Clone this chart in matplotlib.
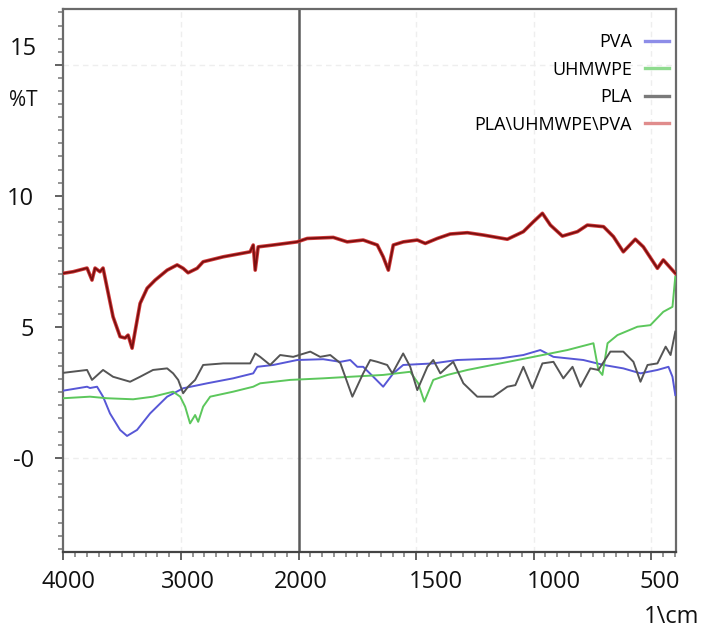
import numpy as np
import matplotlib
matplotlib.use("Agg")
import matplotlib.pyplot as plt
from matplotlib.ticker import FixedLocator, FixedFormatter
from matplotlib.transforms import blended_transform_factory, ScaledTranslation
from matplotlib.lines import Line2D

plt.rcParams['font.family'] = ['Open Sans', 'DejaVu Sans']

# ---------------- data (wavenumber in 1/cm, %T) ----------------
blend_wn = [4000, 3917, 3798, 3756, 3730, 3688, 3662, 3577, 3517, 3475, 3449, 3415,
            3347, 3287, 3219, 3117, 3032, 2981, 2939, 2862, 2811, 2640, 2411, 2385,
            2368, 2343, 2215, 2011, 1963, 1852, 1793, 1725, 1665, 1640, 1618, 1597,
            1554, 1495, 1461, 1410, 1355, 1282, 1214, 1112, 1044, 1001, 963, 929,
            878, 814, 772, 703, 661, 619, 568, 534, 474, 449, 398]
blend_t = [7.04, 7.10, 7.24, 6.78, 7.24, 7.10, 7.24, 5.38, 4.62, 4.57, 4.68, 4.18,
           5.89, 6.47, 6.78, 7.16, 7.36, 7.23, 7.06, 7.23, 7.48, 7.67, 7.86, 8.12,
           7.16, 8.05, 8.12, 8.24, 8.37, 8.41, 8.24, 8.31, 8.12, 7.67, 7.16, 8.12,
           8.24, 8.31, 8.18, 8.37, 8.54, 8.59, 8.50, 8.34, 8.63, 9.01, 9.33, 8.88,
           8.46, 8.63, 8.88, 8.82, 8.44, 7.86, 8.34, 8.05, 7.23, 7.55, 7.04]

pla_wn = [4000, 3798, 3756, 3662, 3577, 3432, 3347, 3237, 3117, 3066, 3023, 2981,
          2939, 2879, 2811, 2640, 2411, 2368, 2326, 2241, 2156, 2045, 1950, 1908,
          1865, 1822, 1771, 1725, 1695, 1665, 1623, 1601, 1555, 1525, 1495, 1452,
          1427, 1397, 1367, 1342, 1299, 1240, 1172, 1112, 1078, 1044, 1006, 963,
          916, 874, 835, 801, 759, 725, 674, 619, 576, 546, 516, 474, 439, 418, 398]
pla_t = [3.24, 3.35, 2.97, 3.35, 3.09, 2.90, 3.09, 3.35, 3.41, 3.22, 2.97, 2.46,
         2.71, 2.97, 3.54, 3.60, 3.60, 3.98, 3.85, 3.54, 3.92, 3.85, 4.05, 3.85,
         3.92, 3.61, 2.33, 3.22, 3.73, 3.66, 3.54, 3.22, 3.98, 3.47, 2.58, 3.47,
         3.73, 3.22, 3.47, 3.66, 2.84, 2.33, 2.33, 2.71, 2.77, 3.47, 2.65, 3.60,
         3.66, 3.03, 3.47, 2.71, 3.41, 3.35, 4.05, 4.05, 3.66, 2.90, 3.54, 3.60,
         4.24, 3.92, 4.81]

pva_wn = [4000, 3798, 3773, 3713, 3662, 3603, 3517, 3458, 3373, 3262, 3117, 2981,
          2777, 2556, 2385, 2351, 2215, 2011, 1895, 1822, 1780, 1750, 1725, 1682,
          1640, 1597, 1555, 1427, 1325, 1142, 1044, 972, 916, 789, 703, 619, 546,
          474, 427, 410, 398]
pva_t = [2.56, 2.71, 2.66, 2.71, 2.33, 1.69, 1.06, 0.83, 1.06, 1.69, 2.33, 2.65,
         2.84, 3.03, 3.22, 3.47, 3.54, 3.73, 3.76, 3.66, 3.73, 3.47, 3.47, 3.09,
         2.71, 3.22, 3.54, 3.60, 3.73, 3.79, 3.92, 4.11, 3.85, 3.73, 3.54, 3.41,
         3.22, 3.35, 3.47, 3.09, 2.39]

pe_wn = [4000, 3773, 3628, 3406, 3237, 3066, 3006, 2964, 2922, 2879, 2853, 2811,
         2751, 2556, 2385, 2326, 2071, 1895, 1780, 1640, 1525, 1491, 1465, 1427,
         1367, 1282, 1142, 1001, 857, 746, 725, 708, 686, 644, 559, 504, 449, 410, 398]
pe_t = [2.27, 2.33, 2.27, 2.23, 2.33, 2.52, 2.33, 1.95, 1.31, 1.63, 1.37, 1.95,
        2.33, 2.52, 2.71, 2.84, 2.97, 3.03, 3.09, 3.16, 3.28, 2.84, 2.14, 2.97,
        3.16, 3.35, 3.60, 3.85, 4.11, 4.37, 3.35, 3.16, 4.37, 4.68, 5.00, 5.06,
        5.57, 5.76, 6.91]

series_names = ["PVA", "UHMWPE", "PLA", "PLA\\UHMWPE\\PVA"]
x_ticks = [4000, 3000, 2000, 1500, 1000, 500]
x_ticklabels = ["4000", "3000", "2000", "1500", "1000", "500"]
y_ticks = [0, 5, 10, 15]
y_ticklabels = ["-0", "5", "10", ""]

# ---------------- figure ----------------
W, H = 702, 638
fig = plt.figure(figsize=(W / 100, H / 100), dpi=100)
ax = fig.add_axes([63.3 / W, 1 - 552 / H, (676 - 63.3) / W, (552 - 9) / H])


def fwd(x):
    x = np.asarray(x, dtype=float)
    return np.where(x >= 2000, (x - 2000) / 1000.0, (x - 2000) / 500.0)


def inv(u):
    u = np.asarray(u, dtype=float)
    return np.where(u >= 0, 2000 + 1000.0 * u, 2000 + 500.0 * u)


ax.set_xscale('function', functions=(fwd, inv))
ax.set_xlim(4000, 395)
ax.set_ylim(-3.6, 17.13)

# very faint dashed grid
for xv in [3000, 1500, 1000, 500]:
    ax.axvline(xv, color='#eeeeee', lw=1.0, ls=(0, (4, 3)), zorder=0)
for yv in [0, 15]:
    ax.axhline(yv, color='#eeeeee', lw=1.0, ls=(0, (4, 3)), zorder=0)
ax.axvline(2000, color='#5a5a5a', lw=1.8, zorder=1)

lw = 1.4
ax.plot(pva_wn, pva_t, color='#5757d6', lw=lw, zorder=3)
ax.plot(pe_wn, pe_t, color='#5cc75c', lw=lw, zorder=3)
ax.plot(pla_wn, pla_t, color='#555555', lw=lw, zorder=3)
ax.plot(blend_wn, blend_t, color='#d03a3a', lw=2.6, zorder=4)
ax.plot(blend_wn, blend_t, color='#7a0f0f', lw=1.3, zorder=5)

# legend (faded colour samples, text to the left)
handles = [Line2D([], [], color='#8d8de8', lw=2.4),
           Line2D([], [], color='#8fdb8f', lw=2.4),
           Line2D([], [], color='#7a7a7a', lw=2.4),
           Line2D([], [], color='#e08c8c', lw=2.4)]
leg = ax.legend(handles, series_names, loc='upper right', frameon=False,
                markerfirst=False, fontsize=13, handlelength=1.3,
                handletextpad=0.75, labelspacing=0.52,
                bbox_to_anchor=(1.015, 0.985))

# spines
for s in ['left', 'right', 'top', 'bottom']:
    ax.spines[s].set_color('#6a6a6a')
    ax.spines[s].set_linewidth(1.6)
ax.spines['bottom'].set_color('#444444')

# ticks
ax.xaxis.set_major_locator(FixedLocator(x_ticks))
ax.xaxis.set_major_formatter(FixedFormatter(x_ticklabels))
minor_x = list(range(3900, 2000, -100)) + list(range(1950, 390, -50))
ax.xaxis.set_minor_locator(FixedLocator(minor_x))
ax.yaxis.set_major_locator(FixedLocator(y_ticks))
ax.yaxis.set_major_formatter(FixedFormatter(y_ticklabels))
ax.yaxis.set_minor_locator(FixedLocator(list(np.arange(-3.5, 17.01, 0.5))))
ax.tick_params(axis='both', which='major', direction='out', length=6,
               width=1.3, color='#555555', labelsize=17, labelcolor='#111111')
ax.tick_params(axis='both', which='minor', direction='out', length=3.5,
               width=1.1, color='#777777')
ax.tick_params(axis='x', pad=7)
ax.tick_params(axis='y', pad=15)
ax.tick_params(top=False, right=False, which='both')

# label offsets along x (px)
offs = [5, 7, 2, 20, 20, 8]
for lab, o in zip(ax.get_xticklabels(), offs):
    lab.set_transform(lab.get_transform() + ScaledTranslation(o / 100, 0, fig.dpi_scale_trans))

# extra left labels
bt = blended_transform_factory(fig.transFigure, ax.transData)
ax.text(37 / W, 15.62, "15", transform=bt, ha='right', va='center',
        fontsize=17, color='#111111')
ax.text(38 / W, 13.65, "%T", transform=bt, ha='right', va='center',
        fontsize=15, color='#111111')
fig.text(699 / W, 1 - 617 / H, "1\\cm", ha='right', va='center',
         fontsize=17, color='#111111')

fig.savefig("out.png", dpi=100)
